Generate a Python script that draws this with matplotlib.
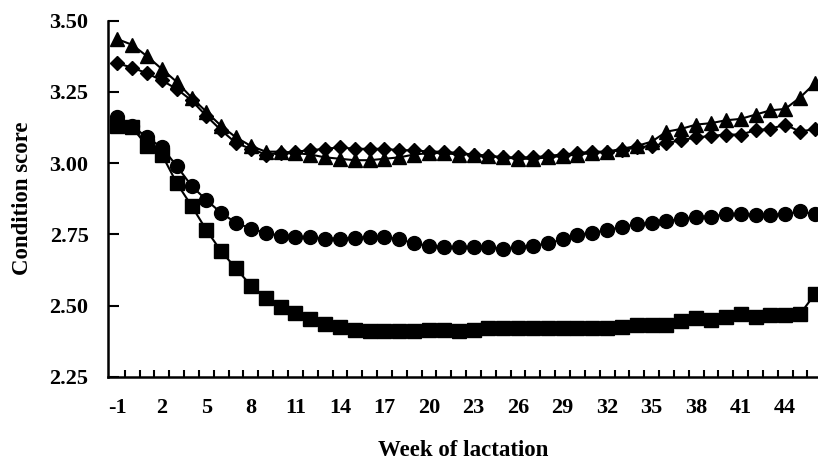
import matplotlib
matplotlib.use("Agg")
import matplotlib.pyplot as plt
from matplotlib.ticker import FixedLocator

weeks = list(range(-1, 47))
week_labels = [w for w in weeks if (w + 1) % 3 == 0]

# condition score per group, weeks -1..46
tri = [3.435, 3.415, 3.375, 3.33, 3.285, 3.23, 3.18, 3.13, 3.09, 3.06, 3.04, 3.04,
       3.035, 3.03, 3.02, 3.015, 3.01, 3.01, 3.015, 3.02, 3.03, 3.035, 3.035, 3.03,
       3.03, 3.025, 3.02, 3.015, 3.015, 3.02, 3.025, 3.03, 3.035, 3.04, 3.05, 3.06,
       3.075, 3.11, 3.12, 3.135, 3.14, 3.15, 3.155, 3.17, 3.185, 3.19, 3.23, 3.28]
dia = [3.35, 3.335, 3.315, 3.29, 3.26, 3.22, 3.165, 3.115, 3.07, 3.05, 3.03, 3.035,
       3.04, 3.045, 3.05, 3.055, 3.05, 3.05, 3.05, 3.045, 3.045, 3.04, 3.04, 3.035,
       3.03, 3.025, 3.02, 3.02, 3.02, 3.025, 3.03, 3.035, 3.04, 3.04, 3.045, 3.055,
       3.06, 3.07, 3.08, 3.09, 3.095, 3.10, 3.10, 3.115, 3.12, 3.135, 3.11, 3.12]
circ = [3.16, 3.13, 3.09, 3.055, 2.99, 2.92, 2.87, 2.825, 2.79, 2.77, 2.755, 2.745,
        2.74, 2.74, 2.735, 2.735, 2.737, 2.74, 2.74, 2.733, 2.718, 2.71, 2.705, 2.705,
        2.705, 2.705, 2.70, 2.705, 2.71, 2.718, 2.732, 2.748, 2.756, 2.764, 2.777, 2.785,
        2.79, 2.797, 2.803, 2.812, 2.812, 2.821, 2.821, 2.818, 2.818, 2.821, 2.83, 2.821]
sq = [3.13, 3.125, 3.06, 3.03, 2.93, 2.85, 2.765, 2.69, 2.63, 2.57, 2.527, 2.495,
      2.472, 2.452, 2.435, 2.424, 2.415, 2.41, 2.41, 2.41, 2.41, 2.415, 2.415, 2.41,
      2.415, 2.42, 2.42, 2.42, 2.42, 2.42, 2.42, 2.42, 2.42, 2.42, 2.425, 2.43,
      2.43, 2.43, 2.445, 2.455, 2.45, 2.46, 2.47, 2.46, 2.465, 2.465, 2.47, 2.54]

plt.rcParams['font.family'] = ['Liberation Serif', 'DejaVu Serif']
plt.rcParams['font.weight'] = 'bold'

fig = plt.figure(figsize=(8.18, 4.68), dpi=100)
ax = fig.add_axes([0.132, 0.195, 0.868, 0.761])

ax.plot(weeks, sq, color='black', lw=1.5, marker='s', ms=10)
ax.plot(weeks, circ, color='black', lw=1.5, marker='o', ms=10)
ax.plot(weeks, dia, color='black', lw=1.5, marker='D', ms=7.5)
ax.plot(weeks, tri, color='black', lw=1.5, marker='^', ms=9.5)

ax.set_xlim(-1.63, 46.21)
ax.set_ylim(2.25, 3.50)
ax.set_yticks([2.25, 2.50, 2.75, 3.00, 3.25, 3.50])
ax.set_yticklabels(['%.2f' % v for v in ax.get_yticks()])
ax.set_xticks(week_labels)
ax.set_xticklabels([str(w) for w in week_labels])
ax.xaxis.set_minor_locator(FixedLocator([w + 0.5 for w in weeks]))

ax.tick_params(axis='x', which='major', length=0, pad=15, labelsize=16)
ax.tick_params(axis='x', which='minor', direction='in', length=5, width=1.5)
ax.tick_params(axis='y', direction='in', length=8, width=1.5, pad=14, labelsize=16)

for s in ['top', 'right']:
    ax.spines[s].set_visible(False)
for s in ['left', 'bottom']:
    ax.spines[s].set_linewidth(1.8)

ax.set_xlabel('Week of lactation', fontsize=16.5, fontweight='bold', labelpad=16)
ax.set_ylabel('Condition score', fontsize=16.5, fontweight='bold', labelpad=12)

fig.savefig('out.png', dpi=100)
